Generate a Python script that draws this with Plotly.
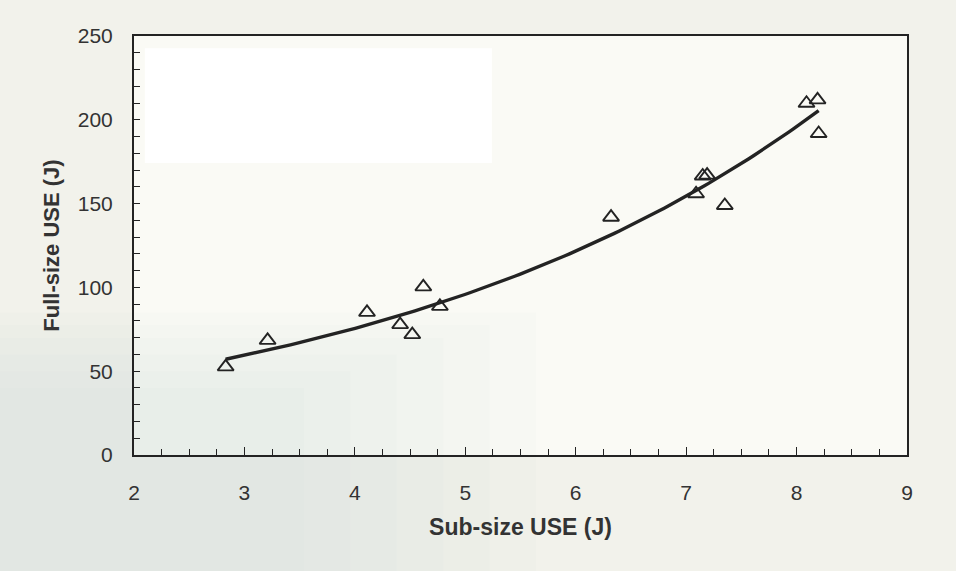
import numpy as np
import plotly.graph_objects as go

# Sub-size vs full-size upper-shelf energy measurements
sub_size_use = [2.83, 3.21, 4.11, 4.41, 4.52, 4.62, 4.77, 6.32,
                7.09, 7.15, 7.19, 7.35, 8.09, 8.19, 8.20]
full_size_use = [52.6, 68.4, 85.1, 77.8, 71.8, 100.3, 88.7, 141.9,
                 155.9, 166.5, 167.0, 148.9, 209.9, 211.9, 191.8]

x_ticks = [2, 3, 4, 5, 6, 7, 8, 9]
y_ticks = [0, 50, 100, 150, 200, 250]

# Exponential trendline (least squares on log of full-size USE)
xs = np.array(sub_size_use)
ys = np.array(full_size_use)
b, ln_a = np.polyfit(xs, np.log(ys), 1)
fit_x = np.linspace(xs.min(), xs.max(), 120)
fit_y = np.exp(ln_a) * np.exp(b * fit_x)

ink = "#232323"
font_family = "Liberation Sans, Arial, sans-serif"

fig = go.Figure()
fig.add_trace(go.Scatter(
    x=fit_x, y=fit_y, mode="lines",
    line=dict(color=ink, width=3.4),
    hoverinfo="skip", showlegend=False,
))
fig.add_trace(go.Scatter(
    x=sub_size_use, y=full_size_use, mode="markers",
    marker=dict(symbol="triangle-up-open", size=14, color=ink,
                line=dict(width=1.9, color=ink)),
    showlegend=False,
))

# blank panel in the upper-left of the plot area
fig.add_shape(type="rect", xref="x domain", yref="y domain",
              x0=0.014, x1=0.463, y0=0.697, y1=0.971,
              fillcolor="#ffffff", line=dict(width=0), layer="below")
# faint tint of the printed page, softened by overlapping bands
for x1, y1 in [(0.22, 0.16), (0.28, 0.20), (0.34, 0.24), (0.40, 0.28),
               (0.46, 0.31), (0.52, 0.34)]:
    fig.add_shape(type="rect", xref="paper", yref="paper",
                  x0=-0.2, x1=x1, y0=-0.3, y1=y1,
                  fillcolor="rgba(185,212,220,0.045)", line=dict(width=0),
                  layer="below")

axis_common = dict(
    showline=True, linecolor=ink, linewidth=2, mirror=True,
    ticks="inside", tickcolor=ink, tickwidth=1.3,
    showgrid=False, zeroline=False,
    tickfont=dict(family=font_family, size=21, color="#333333"),
)

fig.update_xaxes(
    range=[2, 9], tickvals=x_ticks, ticklen=8,
    minor=dict(dtick=0.25, ticks="inside", ticklen=6, tickcolor=ink,
               tickwidth=1.2, showgrid=False),
    ticklabelstandoff=18,
    title=dict(text="Sub-size USE (J)", standoff=16,
               font=dict(family=font_family, size=23, weight="bold",
                         color="#333333")),
    **axis_common,
)
fig.update_yaxes(
    range=[0, 250], tickvals=y_ticks, ticklen=6,
    minor=dict(dtick=10, ticks="inside", ticklen=6, tickcolor=ink,
               tickwidth=1.2, showgrid=False),
    ticklabelstandoff=15,
    title=dict(text="Full-size USE (J)", standoff=12,
               font=dict(family=font_family, size=22, weight="bold",
                         color="#333333")),
    **axis_common,
)

fig.update_layout(
    width=956, height=571,
    margin=dict(l=134, r=49, t=36, b=116),
    paper_bgcolor="#f2f2eb",
    plot_bgcolor="rgba(255,255,252,0.6)",
    font=dict(family=font_family, color="#333333"),
)

fig.write_html("out.html")
